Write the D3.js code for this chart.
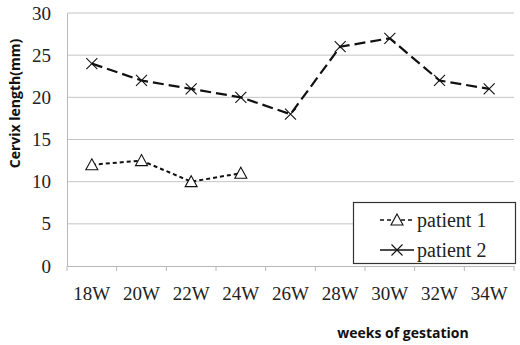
<!DOCTYPE html>
<html>
<head>
<meta charset="utf-8">
<script src="https://cdn.jsdelivr.net/npm/d3@7"></script>
<style>
  body { margin: 0; background: #fff; }
  svg { display: block; }
</style>
</head>
<body>
<div id="chart"></div>
<script>
// chart data
const weeks = ['18W', '20W', '22W', '24W', '26W', '28W', '30W', '32W', '34W'];
const patient1 = [12, 12.5, 10, 11];
const patient2 = [24, 22, 21, 20, 18, 26, 27, 22, 21];
const yTicks = [0, 5, 10, 15, 20, 25, 30];
const seriesNames = ['patient 1', 'patient 2'];

const width = 520, height = 345;
const margin = { top: 13, right: 6, bottom: 79, left: 67 };

const svg = d3.select('#chart')
    .append('svg')
    .attr('width', width)
    .attr('height', height);

const x = d3.scaleBand()
    .domain(weeks)
    .range([margin.left, width - margin.right]);

const y = d3.scaleLinear()
    .domain([0, 30])
    .range([height - margin.bottom, margin.top]);

const serif = '"Liberation Serif", "Times New Roman", serif';
const sans = '"Open Sans", "DejaVu Sans", sans-serif';

// gridlines
svg.append('g')
    .selectAll('line')
    .data(yTicks.filter(d => d > 0))
    .enter()
    .append('line')
    .attr('x1', margin.left)
    .attr('x2', width - margin.right)
    .attr('y1', d => y(d))
    .attr('y2', d => y(d))
    .attr('stroke', '#c4c4c4')
    .attr('stroke-width', 1);

// y axis
const yAxis = svg.append('g')
    .attr('transform', `translate(${margin.left},0)`)
    .call(d3.axisLeft(y).tickValues(yTicks).tickSize(0).tickPadding(16));
yAxis.select('.domain').attr('stroke', '#b8b8b8');
yAxis.selectAll('text')
    .attr('font-family', serif)
    .attr('font-size', 19)
    .attr('fill', '#222');

// x axis
const xAxis = svg.append('g')
    .attr('transform', `translate(0,${y(0)})`)
    .call(d3.axisBottom(x).tickSize(0).tickPadding(21));
xAxis.select('.domain').attr('stroke', '#b8b8b8');
xAxis.selectAll('text')
    .attr('font-family', serif)
    .attr('font-size', 19)
    .attr('fill', '#222');
// tick marks on band edges
xAxis.selectAll('line.edge')
    .data(weeks.concat(['end']))
    .enter()
    .append('line')
    .attr('class', 'edge')
    .attr('x1', (d, i) => x.range()[0] + i * x.step())
    .attr('x2', (d, i) => x.range()[0] + i * x.step())
    .attr('y1', 0)
    .attr('y2', 5)
    .attr('stroke', '#b8b8b8');

// axis titles
svg.append('text')
    .attr('transform', `translate(20,${(margin.top + y(0)) / 2 - 36}) rotate(-90)`)
    .attr('text-anchor', 'middle')
    .attr('font-family', sans)
    .attr('font-weight', 'bold')
    .attr('font-size', 14)
    .attr('fill', '#111')
    .text('Cervix length(mm)');

svg.append('text')
    .attr('x', 403)
    .attr('y', 338)
    .attr('text-anchor', 'middle')
    .attr('font-family', sans)
    .attr('font-weight', 'bold')
    .attr('font-size', 14)
    .attr('fill', '#111')
    .text('weeks of gestation');

const cx = (d, i) => x(weeks[i]) + x.bandwidth() / 2;
const line = d3.line().x(cx).y(d => y(d));

// patient 2
svg.append('path')
    .datum(patient2)
    .attr('d', line)
    .attr('fill', 'none')
    .attr('stroke', '#111')
    .attr('stroke-width', 2.2)
    .attr('stroke-dasharray', '11,5');

function cross(g, px, py) {
    g.append('path')
        .attr('d', `M${px - 5.5},${py - 5.5}L${px + 5.5},${py + 5.5}M${px - 5.5},${py + 5.5}L${px + 5.5},${py - 5.5}`)
        .attr('stroke', '#111')
        .attr('stroke-width', 1.1)
        .attr('fill', 'none');
}
function triangle(g, px, py) {
    g.append('path')
        .attr('d', `M${px},${py - 6}L${px + 6},${py + 5}L${px - 6},${py + 5}Z`)
        .attr('stroke', '#111')
        .attr('stroke-width', 1.1)
        .attr('fill', '#fff');
}

const m2 = svg.append('g');
patient2.forEach((d, i) => cross(m2, cx(d, i), y(d)));

// patient 1
svg.append('path')
    .datum(patient1)
    .attr('d', line)
    .attr('fill', 'none')
    .attr('stroke', '#111')
    .attr('stroke-width', 2)
    .attr('stroke-dasharray', '4,3');

const m1 = svg.append('g');
patient1.forEach((d, i) => triangle(m1, cx(d, i), y(d)));

// legend
const legend = svg.append('g');
legend.append('rect')
    .attr('x', 353.5)
    .attr('y', 202.5)
    .attr('width', 162)
    .attr('height', 61)
    .attr('fill', '#fff')
    .attr('stroke', '#333')
    .attr('stroke-width', 1.2);

const legendRows = [220, 250];
legend.append('line')
    .attr('x1', 380).attr('x2', 414)
    .attr('y1', legendRows[0]).attr('y2', legendRows[0])
    .attr('stroke', '#111').attr('stroke-width', 1.6)
    .attr('stroke-dasharray', '4,3');
triangle(legend, 397, legendRows[0]);
legend.append('line')
    .attr('x1', 380).attr('x2', 414)
    .attr('y1', legendRows[1]).attr('y2', legendRows[1])
    .attr('stroke', '#111').attr('stroke-width', 1.6);
cross(legend, 397, legendRows[1]);

legend.selectAll('text')
    .data(seriesNames)
    .enter()
    .append('text')
    .attr('x', 417)
    .attr('y', (d, i) => legendRows[i])
    .attr('dy', '0.35em')
    .attr('font-family', serif)
    .attr('font-size', 20)
    .attr('fill', '#222')
    .text(d => d);
</script>
</body>
</html>
